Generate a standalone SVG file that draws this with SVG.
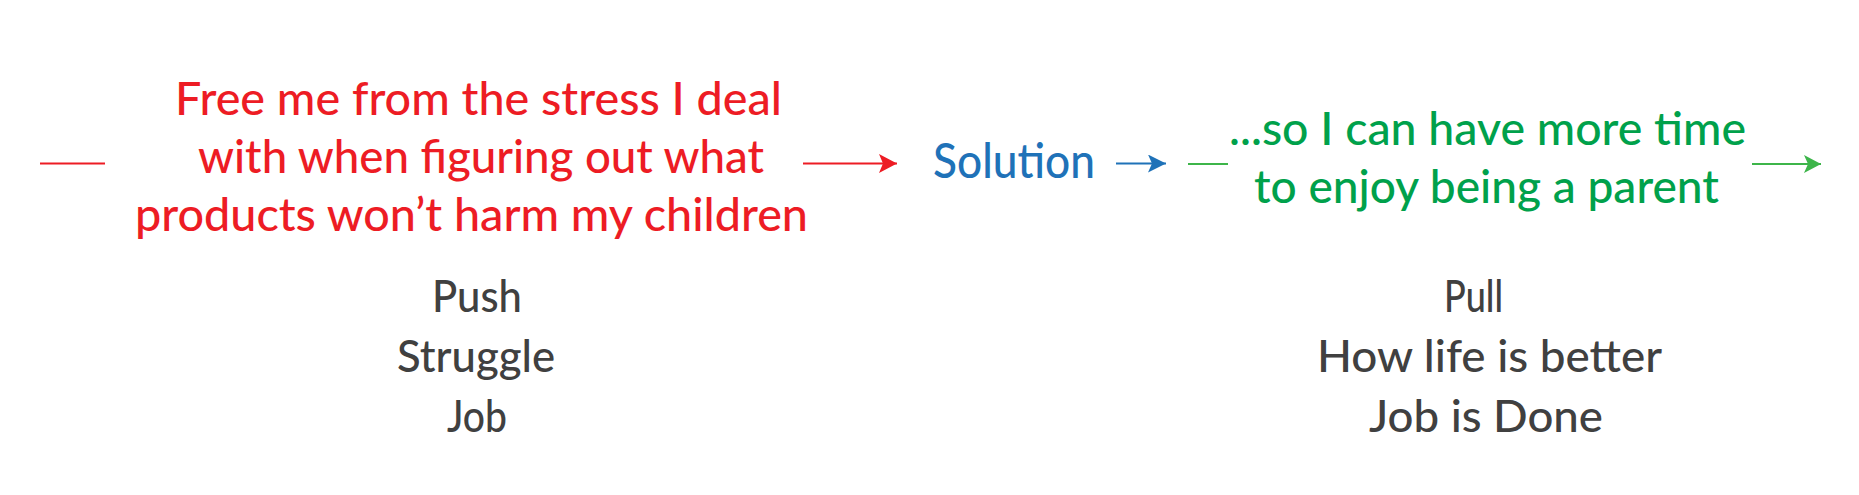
<svg xmlns="http://www.w3.org/2000/svg" width="1859" height="495" viewBox="0 0 1859 495">
<style>
text{font-family:Lato,"Open Sans","Liberation Sans",sans-serif;font-weight:500}
.red{fill:#ED1C24;font-size:47px}
.blue{fill:#1F72B8;font-size:48px}
.green{fill:#00A14B;font-size:47px}
.gray{fill:#404040;font-size:44px}
.cr{stroke:#ED1C24;stroke-width:2;fill:none}
.cb{stroke:#1F72B8;stroke-width:2;fill:none}
.cg{stroke:#3DB54A;stroke-width:2;fill:none}
</style>
<defs>
<marker id="ar" markerUnits="userSpaceOnUse" markerWidth="19" markerHeight="20" refX="18" refY="9.5" orient="auto"><path d="M0,0 L18,9.5 L0,19 L4,9.5 Z" fill="#ED1C24"/></marker>
<marker id="ab" markerUnits="userSpaceOnUse" markerWidth="19" markerHeight="20" refX="18" refY="9" orient="auto"><path d="M0,0 L18,9 L0,18 L4,9 Z" fill="#1F72B8"/></marker>
<marker id="ag" markerUnits="userSpaceOnUse" markerWidth="19" markerHeight="20" refX="17" refY="9" orient="auto"><path d="M0,0 L17,9 L0,18 L4,9 Z" fill="#3DB54A"/></marker>
</defs>
<rect width="1859" height="495" fill="#ffffff"/>
<g id="connectors">
<line class="cr" x1="40" y1="163.5" x2="105" y2="163.5"/>
<line class="cr" x1="803" y1="163.5" x2="897" y2="163.5" marker-end="url(#ar)"/>
<line class="cb" x1="1116" y1="163.5" x2="1166" y2="163.5" marker-end="url(#ab)"/>
<line class="cg" x1="1188" y1="164" x2="1228" y2="164"/>
<line class="cg" x1="1752" y1="164" x2="1821" y2="164" marker-end="url(#ag)"/>
</g>
<g id="struggle">
<text class="red" x="175" y="115" textLength="607" lengthAdjust="spacingAndGlyphs">Free me from the stress I deal</text>
<text class="red" x="198" y="173" textLength="566" lengthAdjust="spacingAndGlyphs">with when figuring out what</text>
<text class="red" x="135" y="231" textLength="673" lengthAdjust="spacingAndGlyphs">products won’t harm my children</text>
</g>
<g id="solution">
<text class="blue" x="933" y="178" textLength="162" lengthAdjust="spacingAndGlyphs">Solution</text>
</g>
<g id="outcome">
<text class="green" x="1229" y="145" textLength="517" lengthAdjust="spacingAndGlyphs">...so I can have more time</text>
<text class="green" x="1254" y="203" textLength="465" lengthAdjust="spacingAndGlyphs">to enjoy being a parent</text>
</g>
<g id="push-label">
<text class="gray" x="432" y="312" textLength="90" lengthAdjust="spacingAndGlyphs">Push</text>
<text class="gray" x="397" y="372" textLength="158" lengthAdjust="spacingAndGlyphs">Struggle</text>
<text class="gray" x="447" y="432" textLength="60" lengthAdjust="spacingAndGlyphs">Job</text>
</g>
<g id="pull-label">
<text class="gray" x="1444" y="312" textLength="59" lengthAdjust="spacingAndGlyphs">Pull</text>
<text class="gray" x="1317" y="372" textLength="345" lengthAdjust="spacingAndGlyphs">How life is better</text>
<text class="gray" x="1369" y="432" textLength="234" lengthAdjust="spacingAndGlyphs">Job is Done</text>
</g>
</svg>
